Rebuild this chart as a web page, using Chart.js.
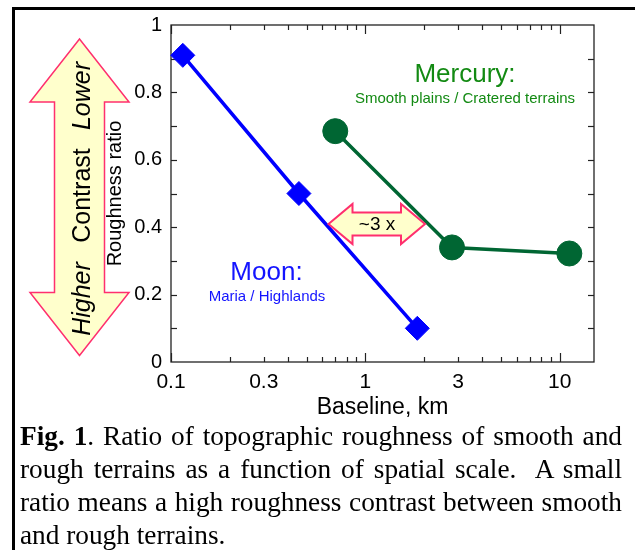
<!DOCTYPE html>
<html>
<head>
<meta charset="utf-8">
<title>Roughness ratio</title>
<script src="https://cdn.jsdelivr.net/npm/chart.js@4.4.0/dist/chart.umd.min.js"></script>
<style>
  body { margin: 0; background: #fff; width: 635px; height: 550px; overflow: hidden; position: relative; }
  #cadre { position: absolute; left: 12px; top: 7px; width: 700px; height: 600px; border-left: 3px solid #000; border-top: 3px solid #000; }
  #graph { position: absolute; left: 0; top: 0; }
  #legende { position: absolute; left: 20px; top: 420px; width: 602px; font-family: "Liberation Serif", "Times New Roman", serif; font-size: 27.3px; line-height: 33px; color: #000; }
  #legende div { white-space: nowrap; text-align: justify; text-align-last: justify; }
  #legende div.fin { text-align-last: left; }
</style>
</head>
<body>
<div id="cadre"></div>
<canvas id="graph" width="635" height="425"></canvas>
<div id="legende">
  <div><b>Fig. 1</b>. Ratio of topographic roughness of smooth and</div>
  <div>rough terrains as a function of spatial scale.&nbsp; A small</div>
  <div>ratio means a high roughness contrast between smooth</div>
  <div class="fin">and rough terrains.</div>
</div>
<script>
// Valeurs
const moonX = [0.115, 0.455, 1.85];
const moonY = [0.91, 0.50, 0.10];

const mercuryX = [0.70, 2.79, 11.2];
const mercuryY = [0.685, 0.34, 0.322];

// Etiquettes des axes
const xTicks = [0.1, 0.3, 1, 3, 10];
const yTicks = [0, 0.2, 0.4, 0.6, 0.8, 1];

const police = "'Liberation Sans', Arial, Helvetica, sans-serif";

function points(xs, ys) {
  return xs.map((x, i) => ({ x: x, y: ys[i] }));
}

function trait(ctx, x1, y1, x2, y2) {
  ctx.beginPath();
  ctx.moveTo(x1, y1);
  ctx.lineTo(x2, y2);
  ctx.stroke();
}

// Grosse fleche verticale a deux pointes
function flecheVerticale(ctx, cx, haut, bas, demiTete, demiCorps, hautTete) {
  ctx.beginPath();
  ctx.moveTo(cx, haut);
  ctx.lineTo(cx + demiTete, haut + hautTete);
  ctx.lineTo(cx + demiCorps, haut + hautTete);
  ctx.lineTo(cx + demiCorps, bas - hautTete);
  ctx.lineTo(cx + demiTete, bas - hautTete);
  ctx.lineTo(cx, bas);
  ctx.lineTo(cx - demiTete, bas - hautTete);
  ctx.lineTo(cx - demiCorps, bas - hautTete);
  ctx.lineTo(cx - demiCorps, haut + hautTete);
  ctx.lineTo(cx - demiTete, haut + hautTete);
  ctx.closePath();
  ctx.fill();
  ctx.stroke();
}

// Petite fleche horizontale "~3 x"
function flecheHorizontale(ctx, cy, gauche, droite, demiTete, demiCorps, longTete) {
  ctx.beginPath();
  ctx.moveTo(gauche, cy);
  ctx.lineTo(gauche + longTete, cy - demiTete);
  ctx.lineTo(gauche + longTete, cy - demiCorps);
  ctx.lineTo(droite - longTete, cy - demiCorps);
  ctx.lineTo(droite - longTete, cy - demiTete);
  ctx.lineTo(droite, cy);
  ctx.lineTo(droite - longTete, cy + demiTete);
  ctx.lineTo(droite - longTete, cy + demiCorps);
  ctx.lineTo(gauche + longTete, cy + demiCorps);
  ctx.lineTo(gauche + longTete, cy + demiTete);
  ctx.closePath();
  ctx.fill();
  ctx.stroke();
}

function texteVertical(ctx, txt, x, y, font) {
  ctx.save();
  ctx.translate(x, y);
  ctx.rotate(-Math.PI / 2);
  ctx.font = font;
  ctx.textAlign = 'center';
  ctx.textBaseline = 'alphabetic';
  ctx.fillText(txt, 0, 0);
  ctx.restore();
}

const decor = {
  id: 'decor',
  beforeDatasetsDraw(chart) {
    const ctx = chart.ctx;
    const a = chart.chartArea;
    const sx = chart.scales.x;
    const sy = chart.scales.y;
    ctx.save();
    ctx.strokeStyle = '#222';
    ctx.lineWidth = 1.3;
    ctx.strokeRect(a.left, a.top, a.right - a.left, a.bottom - a.top);
    ctx.lineWidth = 1.2;
    // graduations vers l'interieur, en bas et en haut
    for (let dec = 0.1; dec <= 10; dec *= 10) {
      for (let k = 1; k <= 9; k++) {
        const v = dec * k;
        if (v > sx.max) break;
        const px = Math.round(sx.getPixelForValue(v)) + 0.5;
        const l = k == 1 ? 9 : 5;
        trait(ctx, px, a.bottom, px, a.bottom - l);
        trait(ctx, px, a.top, px, a.top + l);
      }
    }
    // a gauche et a droite
    for (let i = 1; i < 10; i++) {
      const py = Math.round(sy.getPixelForValue(i / 10)) + 0.5;
      trait(ctx, a.left, py, a.left + 6, py);
      trait(ctx, a.right, py, a.right - 6, py);
    }
    ctx.restore();
  },
  afterDraw(chart) {
    const ctx = chart.ctx;
    ctx.save();

    // fleche "Higher Contrast Lower"
    ctx.fillStyle = '#ffffcc';
    ctx.strokeStyle = '#ff2f6e';
    ctx.lineWidth = 1.5;
    flecheVerticale(ctx, 79.5, 39, 355.5, 49.5, 25, 63);
    ctx.fillStyle = '#000';
    texteVertical(ctx, 'Higher', 90, 299, 'italic 25px ' + police);
    texteVertical(ctx, 'Contrast', 90, 195.5, '25px ' + police);
    texteVertical(ctx, 'Lower', 90, 96, 'italic 25px ' + police);

    // fleche "~3 x"
    ctx.fillStyle = '#ffffcc';
    ctx.strokeStyle = '#ff2f6e';
    ctx.lineWidth = 2;
    flecheHorizontale(ctx, 224, 328.5, 425, 20, 11.5, 24);
    ctx.fillStyle = '#000';
    ctx.font = '19px ' + police;
    ctx.textAlign = 'center';
    ctx.textBaseline = 'middle';
    ctx.fillText('~3 x', 377, 225);

    // textes Mercury et Moon
    ctx.textBaseline = 'alphabetic';
    ctx.fillStyle = '#138a13';
    ctx.font = '26px ' + police;
    ctx.fillText('Mercury:', 465, 82);
    ctx.font = '15px ' + police;
    ctx.fillText('Smooth plains / Cratered terrains', 465, 102.5);

    ctx.fillStyle = '#1414ff';
    ctx.font = '26px ' + police;
    ctx.fillText('Moon:', 266.5, 280);
    ctx.font = '15px ' + police;
    ctx.fillText('Maria / Highlands', 267, 301);

    ctx.restore();
  }
};

new Chart(document.getElementById('graph'), {
  type: 'scatter',
  data: {
    datasets: [
      {
        label: 'Moon',
        data: points(moonX, moonY),
        showLine: true,
        borderColor: '#0000ff',
        backgroundColor: '#0000ff',
        borderWidth: 3.5,
        pointStyle: 'rectRot',
        pointRadius: 12,
        pointBorderWidth: 1,
        clip: false
      },
      {
        label: 'Mercury',
        data: points(mercuryX, mercuryY),
        showLine: true,
        borderColor: '#006633',
        backgroundColor: '#006633',
        borderWidth: 3.5,
        pointStyle: 'circle',
        pointRadius: 12.5,
        pointBorderWidth: 1,
        clip: false
      }
    ]
  },
  options: {
    responsive: false,
    animation: false,
    devicePixelRatio: 1,
    layout: { padding: { left: 0, top: 25, right: 41, bottom: 0 } },
    plugins: {
      legend: { display: false },
      tooltip: { enabled: false }
    },
    scales: {
      x: {
        type: 'logarithmic',
        min: 0.1,
        max: 15,
        afterFit: function(s) { s.height = 63; },
        afterBuildTicks: function(s) { s.ticks = xTicks.map(v => ({ value: v })); },
        grid: { display: false, drawTicks: false },
        border: { display: false },
        ticks: {
          font: { family: police, size: 21 },
          color: '#000',
          padding: 8,
          maxRotation: 0,
          autoSkip: false,
          callback: v => String(v)
        },
        title: {
          display: true,
          text: 'Baseline, km',
          font: { family: police, size: 23 },
          color: '#000',
          padding: { top: 0, bottom: 4 }
        }
      },
      y: {
        min: 0,
        max: 1,
        afterFit: function(s) { s.width = 171; },
        afterBuildTicks: function(s) { s.ticks = yTicks.map(v => ({ value: v })); },
        grid: { display: false, drawTicks: false },
        border: { display: false },
        ticks: {
          font: { family: police, size: 20 },
          color: '#000',
          padding: 9,
          callback: v => String(v)
        },
        title: {
          display: true,
          text: 'Roughness ratio',
          font: { family: police, size: 20 },
          color: '#000',
          padding: { top: 103, bottom: 0 }
        }
      }
    }
  },
  plugins: [decor]
});
</script>
</body>
</html>
